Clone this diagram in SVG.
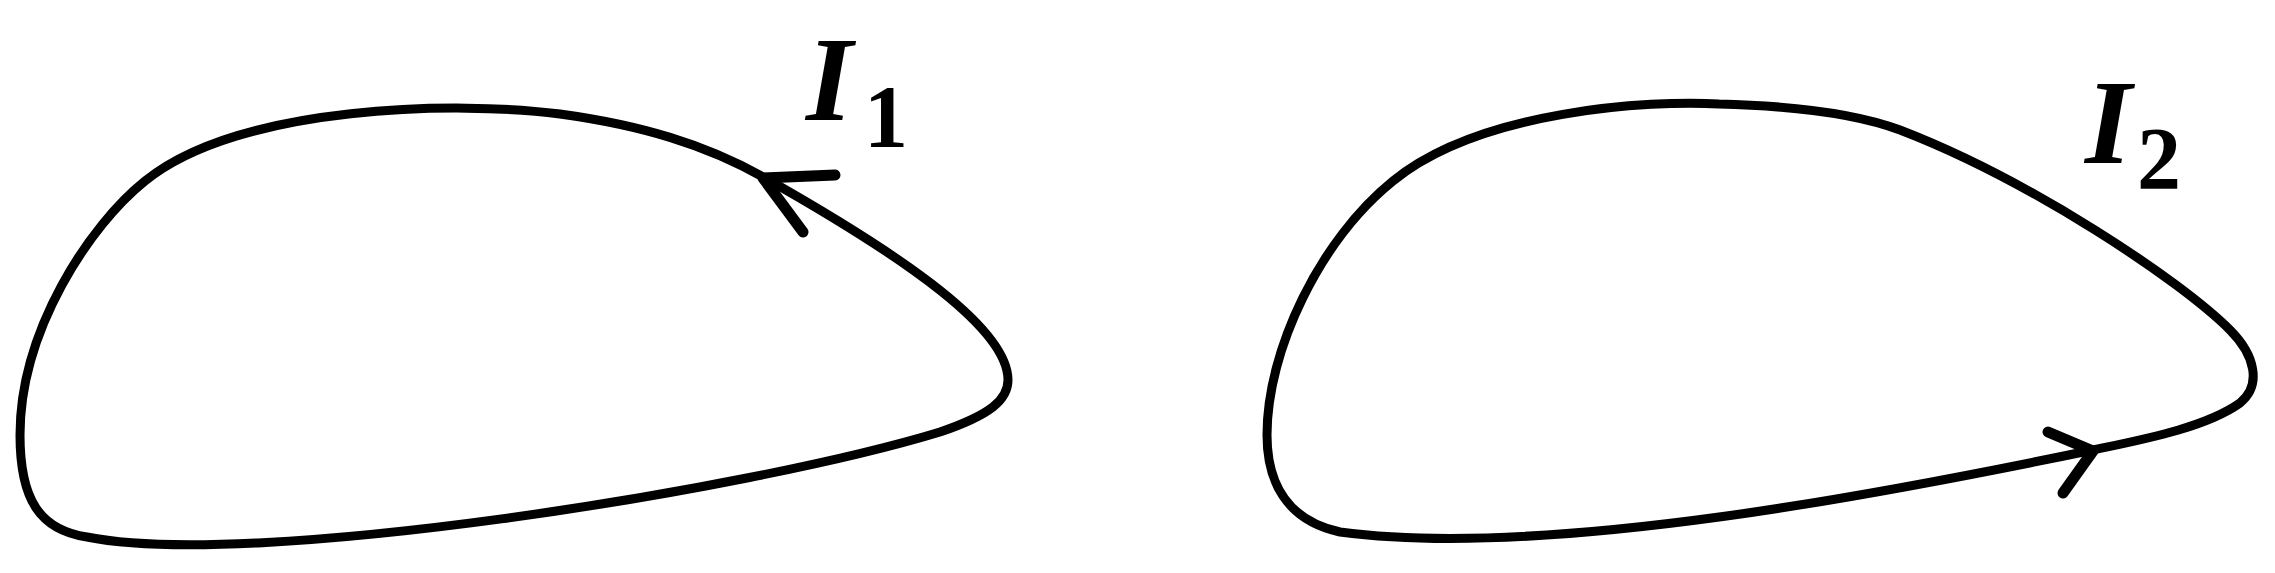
<svg xmlns="http://www.w3.org/2000/svg" width="2275" height="573" viewBox="0 0 2275 573">
<style>
.loop{fill:none;stroke:#000;stroke-width:9;stroke-linejoin:round}
.head{fill:none;stroke:#000;stroke-width:11;stroke-linecap:round;stroke-linejoin:round}
.I{font-family:"Liberation Serif","Times New Roman",serif;font-weight:bold;font-style:italic;font-size:120px;fill:#000}
.sub{font-family:"Liberation Serif","Times New Roman",serif;font-weight:bold;font-size:88px;fill:#000}
</style>
<rect width="2275" height="573" fill="#fff"/>
<g id="loop1">
<path class="loop" d="M 765,178 C 705,144 640,125 560,114 C 460,101 240,104 145,181 C 90,225 20,330 20,435 C 20,500 40,530 87,537 C 250,570 750,490 940,432 C 990,415 1008,400 1008,380 C 1008,330 910,260 765,178 Z"/>
<path class="head" d="M 835,175 L 763,178 L 803,232"/>
<text class="I" x="806" y="120">I</text>
<text class="sub" x="864" y="146">1</text>
</g>
<g id="loop2">
<path class="loop" d="M 1393,181 C 1480,110 1650,100 1719,104 C 1800,106 1860,115 1900,130 C 2030,180 2180,280 2230,330 C 2255,355 2262,385 2240,403 C 2205,428 2140,440 2093,450 C 1900,490 1550,560 1340,532 C 1285,520 1267,480 1267,435 C 1267,350 1320,240 1393,181 Z"/>
<path class="head" d="M 2048,432 L 2093,451 L 2063,493"/>
<text class="I" x="2085" y="163">I</text>
<text class="sub" x="2137" y="188">2</text>
</g>
<g id="connectors"></g>
</svg>
